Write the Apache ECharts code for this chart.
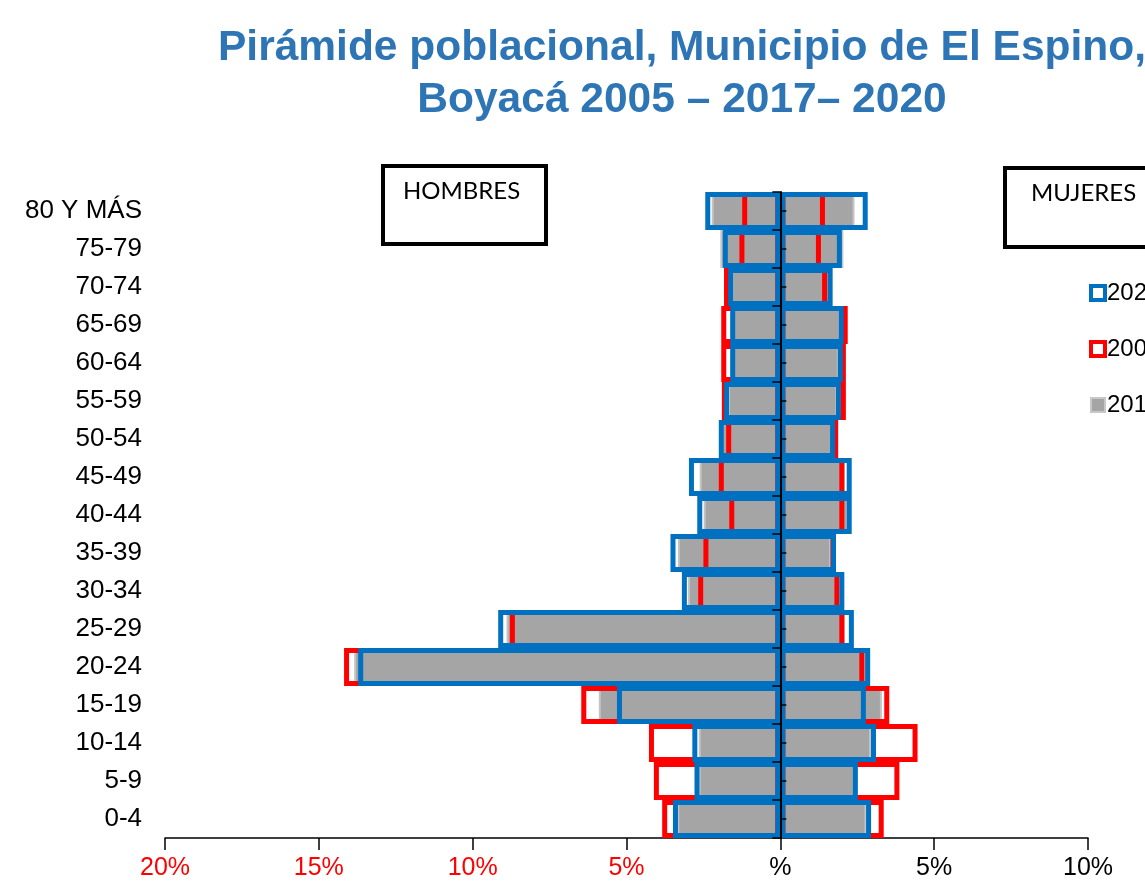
<!DOCTYPE html>
<html>
<head>
<meta charset="utf-8">
<script src="https://cdn.jsdelivr.net/npm/echarts@6/dist/echarts.min.js"></script>
<style>
html,body{margin:0;padding:0;background:#fff;}
#main{width:1145px;height:894px;}
</style>
</head>
<body>
<div id="main"></div>
<script>
// Age groups, bottom to top
var categories = ['0-4','5-9','10-14','15-19','20-24','25-29','30-34','35-39','40-44','45-49','50-54','55-59','60-64','65-69','70-74','75-79','80 Y MÁS'];

// Percentages (men shown on the left as negative values)
var hombres2020 = [-3.49,-2.79,-2.86,-5.31,-13.72,-9.17,-3.20,-3.57,-2.70,-2.97,-2.00,-1.83,-1.63,-1.63,-1.70,-1.87,-2.44];
var hombres2005 = [-3.84,-4.11,-4.27,-6.47,-14.18,-8.79,-2.67,-2.50,-1.66,-2.00,-1.76,-1.90,-1.92,-1.92,-1.83,-1.33,-1.24];
var hombres2017 = [-3.35,-2.65,-2.65,-5.90,-13.85,-8.90,-3.00,-3.33,-2.49,-2.62,-1.90,-1.70,-1.55,-1.55,-1.60,-1.95,-2.23];

var mujeres2020 = [2.95,2.52,3.11,2.78,2.92,2.39,2.08,1.81,2.32,2.32,1.78,1.97,2.03,2.06,1.70,2.00,2.84];
var mujeres2005 = [3.36,3.87,4.46,3.54,2.73,2.08,1.92,1.79,2.08,2.08,1.88,2.13,2.13,2.19,1.52,1.32,1.45];
var mujeres2017 = [2.80,2.45,2.95,3.30,2.80,2.10,1.90,1.65,2.20,2.10,1.70,1.85,1.90,1.95,1.60,2.05,2.41];

var xTickLabels = ['20%','15%','10%','5%','%','5%','10%'];
var titleLines = ['Pirámide poblacional, Municipio de El Espino,', 'Boyacá 2005 – 2017– 2020'];

var BLUE = '#0070C0', RED = '#FF0000', GRAY = '#A5A5A5';
var GRID_LEFT = 165, GRID_RIGHT = 57, W = 1145;
var zeroOffset = -((W - GRID_LEFT - GRID_RIGHT) * 20 / 30);

var chart = echarts.init(document.getElementById('main'), null, {renderer:'canvas'});

function bar(name, data, style){
  return {
    name: name, type: 'bar', data: data,
    xAxisIndex: 0, yAxisIndex: 0,
    barWidth: 38, barGap: '-100%',
    itemStyle: style, animation: false, silent: true
  };
}
var grayStyle = {color: GRAY, borderColor: '#C4C4C4', borderWidth: 2};
var redStyle = {color: 'rgba(0,0,0,0)', borderColor: RED, borderWidth: 5};
var blueStyle = {color: 'rgba(0,0,0,0)', borderColor: BLUE, borderWidth: 5};

var option = {
  animation: false,
  title: {
    text: titleLines.join('\n'),
    left: 677, top: 17, textAlign: 'center',
    textStyle: {fontFamily: 'Liberation Sans, Arial, sans-serif', fontWeight: 'bold', fontSize: 42.5, color: '#2E75B6', lineHeight: 52}
  },
  legend: {
    orient: 'vertical', left: 1084, top: 276,
    itemWidth: 14, itemHeight: 14, itemGap: 32,
    textStyle: {fontFamily: 'Liberation Sans, Arial, sans-serif', fontSize: 24, color: '#000', padding: [0,0,0,-3]},
    data: [
      {name: '2020', icon: 'rect', itemStyle: {color: '#fff', borderColor: BLUE, borderWidth: 4}},
      {name: '2005', icon: 'rect', itemStyle: {color: '#fff', borderColor: RED, borderWidth: 4}},
      {name: '2017', icon: 'rect', itemStyle: {color: GRAY, borderColor: '#C8C8C8', borderWidth: 2}}
    ]
  },
  grid: {left: GRID_LEFT, right: GRID_RIGHT, top: 192, bottom: 56},
  xAxis: [{
    type: 'value', min: -20, max: 10, interval: 5,
    splitLine: {show: false},
    axisLine: {show: true, onZero: false, lineStyle: {color: '#000', width: 1.5}},
    axisTick: {show: true, length: 12, lineStyle: {color: '#000', width: 1.5}},
    axisLabel: {
      margin: 18, fontSize: 25, fontFamily: 'Liberation Sans, Arial, sans-serif',
      formatter: function(v, i){ return xTickLabels[i]; },
      color: function(v){ return v < 0 ? RED : '#000'; }
    }
  }],
  yAxis: [{
    type: 'category', data: categories, position: 'left',
    axisLine: {show: false, onZero: false}, axisTick: {show: false},
    axisLabel: {margin: 23, fontSize: 26, color: '#000', fontFamily: 'Liberation Sans, Arial, sans-serif'}
  }, {
    type: 'category', data: categories, position: 'left', offset: zeroOffset, z: 10,
    axisLine: {show: true, onZero: false, lineStyle: {color: '#000', width: 2}},
    axisTick: {show: true, length: 8, lineStyle: {color: '#000', width: 1.5}},
    axisLabel: {show: false}
  }, {
    type: 'category', data: categories, position: 'left', offset: zeroOffset, z: 10,
    axisLine: {show: false, onZero: false},
    axisTick: {show: true, inside: true, alignWithLabel: true, length: 6, lineStyle: {color: '#000', width: 1.5}},
    axisLabel: {show: false}
  }],
  series: [
    bar('2017', hombres2017, grayStyle),
    bar('2017', mujeres2017, grayStyle),
    bar('2005', hombres2005, redStyle),
    bar('2005', mujeres2005, redStyle),
    bar('2020', hombres2020, blueStyle),
    bar('2020', mujeres2020, blueStyle)
  ],
  graphic: [
    {type: 'rect', left: 381, top: 164, shape: {width: 163, height: 78}, style: {fill: '#fff', stroke: '#000', lineWidth: 4}, z: 100},
    {type: 'text', left: 403, top: 179, style: {text: 'HOMBRES', font: '24px Lato, "Open Sans", sans-serif', fill: '#000'}, z: 101},
    {type: 'rect', left: 1003, top: 166, shape: {width: 160, height: 79}, style: {fill: '#fff', stroke: '#000', lineWidth: 4}, z: 100},
    {type: 'text', left: 1031, top: 181, style: {text: 'MUJERES', font: '24px Lato, "Open Sans", sans-serif', fill: '#000'}, z: 101}
  ]
};
chart.setOption(option);
</script>
</body>
</html>
